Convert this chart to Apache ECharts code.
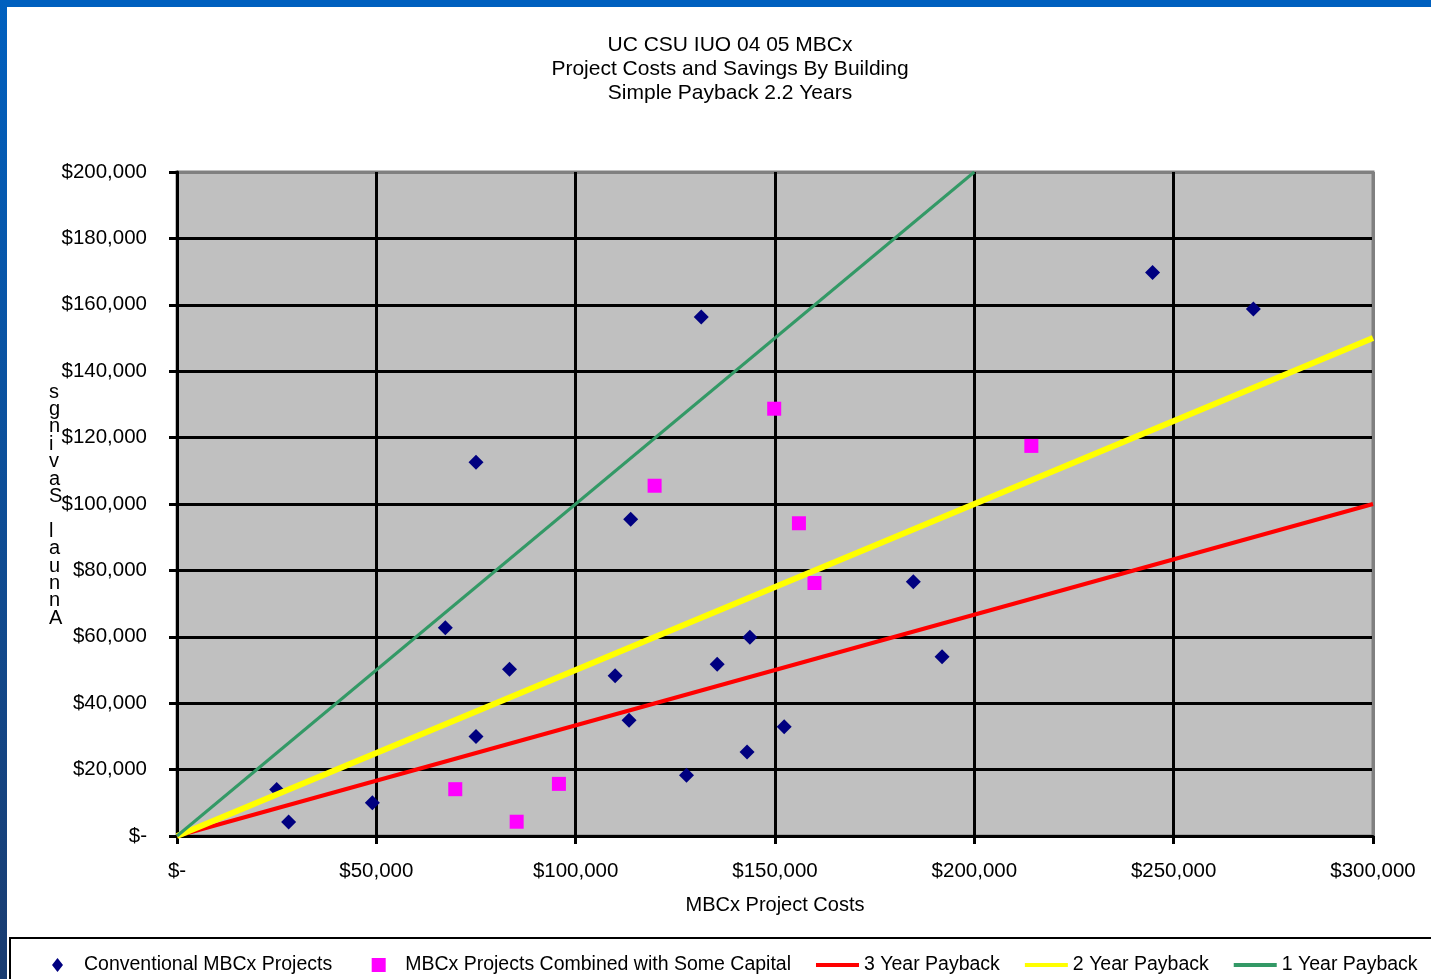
<!DOCTYPE html>
<html>
<head>
<meta charset="utf-8">
<script src="https://cdn.jsdelivr.net/npm/echarts@6/dist/echarts.min.js"></script>
<style>
html,body{margin:0;padding:0;background:#fff;}
#chart{width:1431px;height:979px;}
</style>
</head>
<body>
<div id="chart"></div>
<script>
const titleLines = ['UC CSU IUO 04 05 MBCx', 'Project Costs and Savings By Building', 'Simple Payback 2.2 Years'];
const xTicks = [0, 50000, 100000, 150000, 200000, 250000, 300000];
const yTicks = [0, 20000, 40000, 60000, 80000, 100000, 120000, 140000, 160000, 180000, 200000];
const conventional = [
  [25000, 14000], [28000, 4200], [49000, 10000], [67300, 62700], [83400, 50200],
  [75000, 30000], [75000, 112600], [131500, 156300], [113800, 95400], [109900, 48300],
  [113400, 34900], [127800, 18300], [135500, 51700], [143700, 59900], [143000, 25300],
  [152300, 32900], [184700, 76600], [191900, 54000], [244700, 169700], [270000, 158700]
];
const withCapital = [
  [69800, 14100], [85200, 4300], [95800, 15700], [119800, 105500],
  [149800, 128700], [156000, 94200], [159900, 76200], [214300, 117500]
];
const payback3 = [[0, 0], [300000, 100000]];
const payback2 = [[0, 0], [300000, 150000]];
const payback1 = [[0, 0], [200000, 200000]];
const seriesNames = ['Conventional MBCx Projects', 'MBCx Projects Combined with Some Capital', '3 Year Payback', '2 Year Payback', '1 Year Payback'];
const xName = 'MBCx Project Costs';
const yName = 'Annual Savings';

const FONT = '"Liberation Sans", Arial, sans-serif';
const money = v => v === 0 ? '$-' : '$' + v.toLocaleString('en-US');
const gridColors = n => Array.from({ length: n }, (_, i) => i === n - 1 ? '#808080' : '#000');

const lineIcon = 'path://M0,0M43,14M0,5L43,5L43,9L0,9Z';
const diamondIcon = 'path://M0,0M43,14M21.5,0L27,7L21.5,14L16,7Z';
const squareIcon = 'path://M0,0M43,14M14.5,0L28.5,0L28.5,14L14.5,14Z';
const chart = echarts.init(document.getElementById('chart'));
chart.setOption({
  animation: false,
  backgroundColor: '#fff',
  textStyle: { fontFamily: FONT, color: '#000' },
  title: {
    text: titleLines.join('\n'),
    left: 725, top: 28, textAlign: 'center',
    textStyle: { fontFamily: FONT, fontSize: 21, fontWeight: 'normal', color: '#000', lineHeight: 24 }
  },
  grid: {
    left: 177, right: 58, top: 172, bottom: 143,
    show: true, backgroundColor: '#c0c0c0', borderColor: '#808080', borderWidth: 3
  },
  xAxis: {
    type: 'value', min: 0, max: 300000, interval: 50000,
    name: xName, nameLocation: 'middle', nameGap: 59,
    nameTextStyle: { fontFamily: FONT, fontSize: 20, color: '#000' },
    axisLine: { show: true, onZero: false, lineStyle: { color: '#000', width: 3 } },
    axisTick: { show: true, length: 8, lineStyle: { color: '#000', width: 3 } },
    axisLabel: { formatter: money, fontFamily: FONT, fontSize: 20.5, color: '#000', margin: 25 },
    splitLine: { show: true, lineStyle: { color: gridColors(xTicks.length), width: 3 } }
  },
  yAxis: {
    type: 'value', min: 0, max: 200000, interval: 20000,
    axisLine: { show: true, onZero: false, lineStyle: { color: '#000', width: 3 } },
    axisTick: { show: true, length: 8, lineStyle: { color: '#000', width: 3 } },
    axisLabel: { formatter: money, fontFamily: FONT, fontSize: 20.5, color: '#000', margin: 30 },
    splitLine: { show: true, lineStyle: { color: gridColors(yTicks.length), width: 3 } }
  },
  legend: {
    left: 36, top: 955, padding: 0, itemGap: 25, itemWidth: 43, itemHeight: 14,
    textStyle: { fontFamily: FONT, fontSize: 19.5, color: '#000' },
    data: [
      { name: seriesNames[0], icon: diamondIcon },
      { name: seriesNames[1], icon: squareIcon },
      { name: seriesNames[2], icon: lineIcon },
      { name: seriesNames[3], icon: lineIcon },
      { name: seriesNames[4], icon: lineIcon }
    ]
  },
  graphic: [
    { type: 'rect', shape: { x: 0, y: 0, width: 1431, height: 7 }, style: { fill: '#0060bf' }, z: 100 },
    { type: 'rect', shape: { x: 0, y: 0, width: 7, height: 979 },
      style: { fill: new echarts.graphic.LinearGradient(0, 0, 0, 1, [{ offset: 0, color: '#0060bf' }, { offset: 1, color: '#1a3c70' }]) }, z: 100 },
    { type: 'rect', shape: { x: 10, y: 938, width: 1440, height: 60 }, style: { fill: 'none', stroke: '#000', lineWidth: 2 }, z: 1 },
    { type: 'text', left: 49, top: 382,
      style: { text: yName.split('').reverse().join('\n'), fontFamily: FONT, fontSize: 20, lineHeight: 17.4, fill: '#000', align: 'center' } }
  ],
  series: [
    { name: seriesNames[0], type: 'scatter', data: conventional, symbol: 'diamond', symbolSize: 15,
      itemStyle: { color: '#000080', opacity: 1 }, z: 2 },
    { name: seriesNames[1], type: 'scatter', data: withCapital, symbol: 'rect', symbolSize: 14,
      itemStyle: { color: '#ff00ff', opacity: 1 }, z: 2 },
    { name: seriesNames[2], type: 'line', data: payback3, symbol: 'none', lineStyle: { color: '#ff0000', width: 4 },
      itemStyle: { color: '#ff0000' }, z: 3 },
    { name: seriesNames[3], type: 'line', data: payback2, symbol: 'none', lineStyle: { color: '#ffff00', width: 6 },
      itemStyle: { color: '#ffff00' }, z: 3 },
    { name: seriesNames[4], type: 'line', data: payback1, symbol: 'none', lineStyle: { color: '#339966', width: 3 },
      itemStyle: { color: '#339966' }, z: 3 }
  ]
});
</script>
</body>
</html>
